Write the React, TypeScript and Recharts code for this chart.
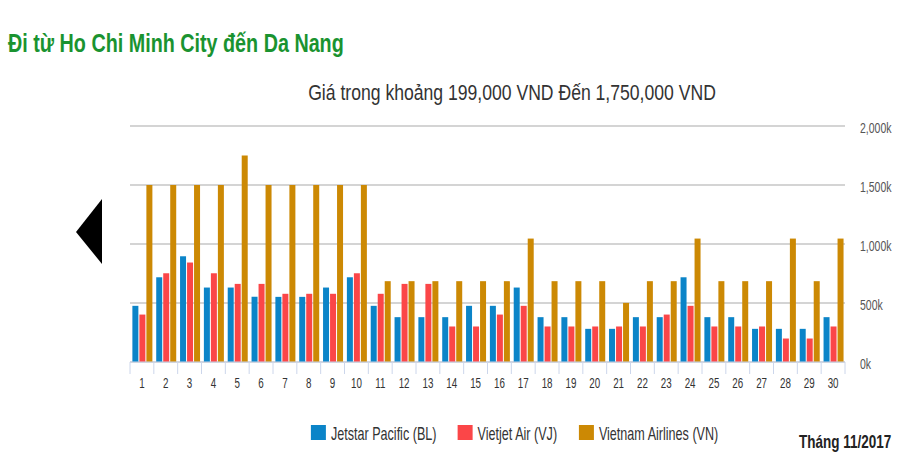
import { Bar, BarChart, CartesianGrid, Legend, XAxis, YAxis } from "recharts";

const FONT = "'Liberation Sans', Arial, sans-serif";
// the reference text is horizontally squeezed
const K = 0.7;

const days = Array.from({ length: 30 }, (_, i) => i + 1);
// prices in thousand VND
const jetstar = [476, 718, 896, 631, 631, 552, 552, 552, 631, 718, 476, 380, 380, 380, 476, 476, 631, 380, 380, 281, 281, 380, 380, 718, 380, 380, 281, 281, 281, 380];
const vietjet = [402, 752, 843, 752, 662, 662, 578, 578, 578, 752, 578, 662, 662, 301, 301, 402, 476, 301, 301, 301, 301, 301, 402, 476, 301, 301, 301, 199, 199, 301];
const vietnamAirlines = [1499, 1499, 1499, 1499, 1750, 1499, 1499, 1499, 1499, 1499, 685, 685, 685, 685, 685, 685, 1046, 685, 685, 685, 501, 685, 685, 1046, 685, 685, 685, 1046, 685, 1046];
const yTicks = [0, 500, 1000, 1500, 2000];

const series = [
  { key: "bl", name: "Jetstar Pacific (BL)", color: "#0b84c8", values: jetstar },
  { key: "vj", name: "Vietjet Air (VJ)", color: "#fb4648", values: vietjet },
  { key: "vn", name: "Vietnam Airlines (VN)", color: "#cc8904", values: vietnamAirlines },
];

const data = days.map((d, i) => {
  const row: Record<string, number> = { day: d };
  series.forEach((s) => (row[s.key] = s.values[i]));
  return row;
});

let ctx: CanvasRenderingContext2D | null = null;
function measure(text: string, font: string) {
  if (!ctx) ctx = document.createElement("canvas").getContext("2d");
  if (!ctx) return text.length * 9;
  ctx.font = font;
  return ctx.measureText(text).width;
}

function Squeeze({ x, y, size, fill, weight = "normal", anchor = "start", k = K, children }: any) {
  return (
    <text
      transform={`translate(${x},${y}) scale(${k},1)`}
      textAnchor={anchor}
      fontSize={size}
      fontWeight={weight}
      fill={fill}
      fontFamily={FONT}
    >
      {children}
    </text>
  );
}

function XTick({ x, y, payload, index }: any) {
  const off = payload.offset ?? 0;
  return (
    <g>
      <line x1={x - off} x2={x - off} y1={y} y2={y + 12} stroke="#ccd6eb" />
      {index === days.length - 1 && <line x1={x + off} x2={x + off} y1={y} y2={y + 12} stroke="#ccd6eb" />}
      <Squeeze x={x} y={y + 26} size={14} fill="#333" anchor="middle">
        {payload.value}
      </Squeeze>
    </g>
  );
}

function YTick({ x, y, payload }: any) {
  return (
    <Squeeze x={x} y={y + 7} size={15} fill="#555">
      {`${payload.value.toLocaleString("en-US")}k`}
    </Squeeze>
  );
}

function LegendContent({ payload }: any) {
  const font = `18px ${FONT}`;
  const items = (payload || []).map((p: any) => ({ label: p.value, color: p.color, w: measure(p.value, font) * K }));
  const total = items.reduce((s: number, it: any) => s + 20 + it.w, 0) + 21 * (items.length - 1);
  let cx = 515 - total / 2;
  return (
    <svg width={900} height={30}>
      {items.map((it: any) => {
        const x0 = cx;
        cx += 20 + it.w + 21;
        return (
          <g key={it.label}>
            <rect x={x0} y={5} width={15} height={15} fill={it.color} />
            <Squeeze x={x0 + 20} y={20} size={18} fill="#333">
              {it.label}
            </Squeeze>
          </g>
        );
      })}
    </svg>
  );
}

export default function App() {
  return (
    <div style={{ position: "absolute", left: 0, top: 0, width: 900, height: 471, background: "#fff" }}>
      <svg width={900} height={471} style={{ position: "absolute", left: 0, top: 0 }}>
        <Squeeze x={8} y={52} size={26} weight="bold" fill="#1a9330" k={0.76}>
          Đi từ Ho Chi Minh City đến Da Nang
        </Squeeze>
        <Squeeze x={512} y={100} size={22} fill="#333" anchor="middle" k={0.8}>
          Giá trong khoảng 199,000 VND Đến 1,750,000 VND
        </Squeeze>
        <polygon points="76,232 102,199 102,264" fill="#000" />
        <Squeeze x={799} y={448} size={18} weight="bold" fill="#222" k={0.75}>
          Tháng 11/2017
        </Squeeze>
      </svg>
      <div style={{ position: "absolute", left: 0, top: 0 }}>
        <BarChart
          width={900}
          height={471}
          data={data}
          margin={{ top: 126, right: 10, left: 130, bottom: 79 }}
          barCategoryGap="10%"
          barGap={1}
        >
          <CartesianGrid vertical={false} stroke="#d4d4d4" strokeWidth={2} />
          <XAxis
            dataKey="day"
            height={30}
            stroke="#ccd6eb"
            tickLine={false}
            tickSize={0}
            tickMargin={0}
            interval={0}
            tick={<XTick />}
          />
          <YAxis
            orientation="right"
            width={45}
            domain={[0, 2000]}
            ticks={yTicks}
            axisLine={false}
            tickLine={false}
            tickSize={0}
            tickMargin={15}
            tick={<YTick />}
          />
          <Legend
            layout="horizontal"
            verticalAlign="middle"
            align="center"
            width={900}
            wrapperStyle={{ top: 420, left: 0 }}
            content={<LegendContent />}
          />
          {series.map((s) => (
            <Bar key={s.key} dataKey={s.key} name={s.name} fill={s.color} isAnimationActive={false} />
          ))}
        </BarChart>
      </div>
    </div>
  );
}
